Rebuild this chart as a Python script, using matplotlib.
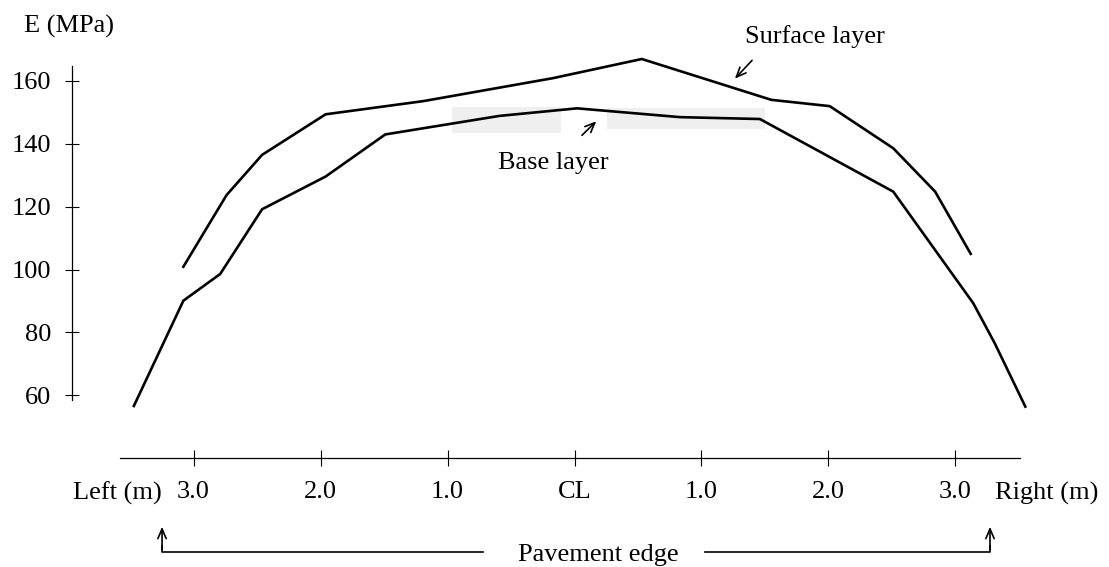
import matplotlib.pyplot as plt
from matplotlib.patches import Rectangle

# offsets from centre line in m (left side negative), modulus in MPa
surface_x = [-3.08, -2.74, -2.46, -1.96, -1.19, -0.17, 0.53, 1.55, 2.01, 2.51, 2.84, 3.12]
surface_E = [100.9, 123.7, 136.5, 149.4, 153.6, 160.9, 167.0, 154.0, 152.0, 138.6, 124.8, 105.0]

base_x = [-3.47, -3.08, -2.79, -2.46, -1.96, -1.49, -0.59, 0.02, 0.83, 1.46, 2.51, 3.14, 3.31, 3.55]
base_E = [56.6, 90.1, 98.6, 119.2, 129.6, 143.0, 148.9, 151.3, 148.5, 147.9, 124.8, 89.3, 76.5, 56.4]

xtick_pos = [-3, -2, -1, 0, 1, 2, 3]
xtick_labels = ["3.0", "2.0", "1.0", "CL", "1.0", "2.0", "3.0"]
ytick_pos = [60, 80, 100, 120, 140, 160]

plt.rcParams['font.family'] = ['Liberation Serif', 'DejaVu Serif']
FS = 19
ARROW = dict(arrowstyle='->,head_length=0.7,head_width=0.3', lw=1.2, color='black')

fig = plt.figure(figsize=(11.09, 5.67), dpi=100)
ax = fig.add_axes([0, 0, 1, 1])
ax.set_xlim(-4.524, 4.209)
ax.set_ylim(5.37, 185.77)

# grey boxes behind the base layer line
ax.add_patch(Rectangle((-0.967, 143.55), 0.861, 8.25, color='#efefef', lw=0, zorder=1))
ax.add_patch(Rectangle((0.254, 144.7), 1.246, 6.8, color='#efefef', lw=0, zorder=1))

ax.plot(surface_x, surface_E, color='black', lw=1.9, zorder=3)
ax.plot(base_x, base_E, color='black', lw=1.9, zorder=3)

# axes: detached spines
for s in ['top', 'right']:
    ax.spines[s].set_visible(False)
ax.spines['left'].set_position(('data', -3.957))
ax.spines['left'].set_bounds(58.5, 164.9)
ax.spines['bottom'].set_position(('data', 40.05))
ax.spines['bottom'].set_bounds(-3.579, 3.508)
ax.spines['left'].set_linewidth(0.9)
ax.spines['bottom'].set_linewidth(0.9)

ax.set_xticks(xtick_pos)
ax.set_xticklabels(xtick_labels)
ax.set_yticks(ytick_pos)
ax.tick_params(axis='x', direction='inout', length=11.5, width=0.8, pad=11, labelsize=FS)
ax.tick_params(axis='y', direction='inout', length=10, width=0.8, pad=10, labelsize=FS)

ax.text(-4.335, 177.2, "E (MPa)", fontsize=FS, ha='left', va='center')
ax.text(-3.60, 28.9, "Left (m)", fontsize=FS, ha='center', va='center')
ax.text(3.72, 28.9, "Right (m)", fontsize=FS, ha='center', va='center')

# layer labels with arrows
ax.text(1.342, 174.1, "Surface layer", fontsize=FS, ha='left', va='center')
ax.annotate("", xy=(1.248, 160.1), xytext=(1.413, 167.2), arrowprops=ARROW)
ax.text(-0.167, 133.9, "Base layer", fontsize=FS, ha='center', va='center')
ax.annotate("", xy=(0.187, 147.8), xytext=(0.043, 142.1), arrowprops=ARROW)

# pavement edge brackets
ax.plot([-0.718, -3.248, -3.248], [10.05, 10.05, 12.0], color='black', lw=1.2)
ax.annotate("", xy=(-3.248, 19.05), xytext=(-3.248, 10.05), arrowprops=ARROW)
ax.plot([1.028, 3.272, 3.272], [10.05, 10.05, 12.0], color='black', lw=1.2)
ax.annotate("", xy=(3.272, 19.05), xytext=(3.272, 10.05), arrowprops=ARROW)
ax.text(0.185, 7.3, "Pavement edge", fontsize=FS, ha='center', va='baseline')

fig.savefig("out.png", dpi=100, facecolor='white')
